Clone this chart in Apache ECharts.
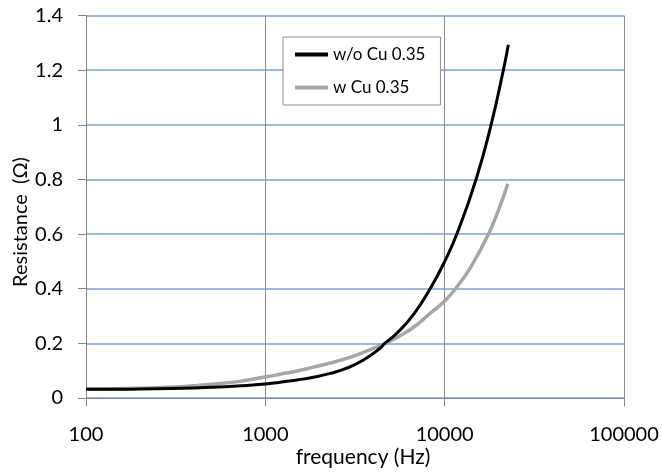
<!DOCTYPE html>
<html>
<head>
<meta charset="utf-8">
<script src="https://cdn.jsdelivr.net/npm/echarts@6/dist/echarts.min.js"></script>
<style>
html,body{margin:0;padding:0;background:#fff;}
#chart{width:662px;height:472px;}
</style>
</head>
<body>
<div id="chart"></div>
<script>
var seriesNames = ['w/o Cu 0.35', 'w Cu 0.35'];
var freqNoCu = [100, 150, 200, 300, 400, 500, 700, 1000, 1208, 1500, 1854, 2300, 2844, 3524, 4365, 4600, 5410, 6680, 8300, 10000, 11770, 14960, 18150, 21240, 22650];
var resNoCu  = [0.032, 0.032, 0.033, 0.035, 0.037, 0.039, 0.044, 0.051, 0.058, 0.066, 0.076, 0.090, 0.109, 0.139, 0.182, 0.198, 0.237, 0.304, 0.400, 0.500, 0.605, 0.800, 1.000, 1.200, 1.293];
var freqCu   = [100, 150, 200, 300, 400, 500, 700, 1000, 1208, 1500, 1854, 2300, 2844, 3524, 4365, 4600, 5410, 6680, 8300, 10000, 11800, 14000, 17540, 20000, 22500];
var resCu    = [0.033, 0.034, 0.036, 0.040, 0.045, 0.050, 0.060, 0.077, 0.087, 0.099, 0.113, 0.128, 0.145, 0.167, 0.192, 0.198, 0.222, 0.258, 0.310, 0.355, 0.410, 0.480, 0.600, 0.690, 0.784];
var xTicks = [100, 1000, 10000, 100000];
var yMin = 0, yMax = 1.4, yStep = 0.2;
var xName = 'frequency (Hz)';
var yName = 'Resistance  (Ω)';

function pairs(xs, ys){ return xs.map(function(x,i){ return [x, ys[i]]; }); }

var FONT = 'Lato, "Open Sans", sans-serif';
var chart = echarts.init(document.getElementById('chart'), null, {renderer:'canvas'});
chart.setOption({
  animation: false,
  backgroundColor: '#ffffff',
  grid: {left: 86, right: 38, top: 15.6, bottom: 74, containLabel: false, outerBoundsMode: 'none'},
  legend: {
    show: true,
    orient: 'vertical',
    left: 283, top: 37,
    padding: [9, 15, 9, 12],
    itemWidth: 33, itemHeight: 4, itemGap: 16,
    borderColor: '#8c8c8c', borderWidth: 1, backgroundColor: '#ffffff',
    textStyle: {fontFamily: FONT, fontSize: 17, color: '#000'},
    data: [
      {name: seriesNames[0], icon: 'rect', itemStyle: {color: '#000000'}},
      {name: seriesNames[1], icon: 'rect', itemStyle: {color: '#a6a6a6'}}
    ]
  },
  xAxis: {
    type: 'log', logBase: 10, min: xTicks[0], max: xTicks[xTicks.length-1],
    axisLine: {show: true, lineStyle: {color: '#868686', width: 1}},
    axisTick: {show: true, length: 8, lineStyle: {color: '#868686'}},
    minorTick: {show: false},
    axisLabel: {margin: 27, fontFamily: FONT, fontSize: 20, color: '#000',
      formatter: function(v){ return String(Math.round(v)); }},
    splitLine: {show: true, lineStyle: {color: '#8c8c8c', width: 1}}
  },
  yAxis: {
    type: 'value', min: yMin, max: yMax, interval: yStep,
    axisLine: {show: true, lineStyle: {color: '#868686', width: 1}},
    axisTick: {show: true, length: 8, lineStyle: {color: '#868686'}},
    axisLabel: {margin: 23, fontFamily: FONT, fontSize: 20, color: '#000',
      formatter: function(v){ return String(+v.toFixed(1)); }},
    splitLine: {show: true, lineStyle: {color: '#7da1ce', width: 1.5}}
  },
  graphic: [
    {type: 'text', x: 363, y: 457,
      style: {text: xName, font: '21px ' + FONT, fill: '#000', align: 'center', verticalAlign: 'middle'}},
    {type: 'text', x: 21, y: 222, rotation: Math.PI / 2,
      style: {text: yName, font: '20px ' + FONT, fill: '#000', align: 'center', verticalAlign: 'middle'}}
  ],
  series: [
    {name: seriesNames[0], type: 'line', data: pairs(freqNoCu, resNoCu), smooth: 0.5,
      symbol: 'none', lineStyle: {color: '#000000', width: 3}, itemStyle: {color: '#000000'}, z: 3},
    {name: seriesNames[1], type: 'line', data: pairs(freqCu, resCu), smooth: 0.5,
      symbol: 'none', lineStyle: {color: '#a6a6a6', width: 3.5}, itemStyle: {color: '#a6a6a6'}, z: 2}
  ]
});
</script>
</body>
</html>
